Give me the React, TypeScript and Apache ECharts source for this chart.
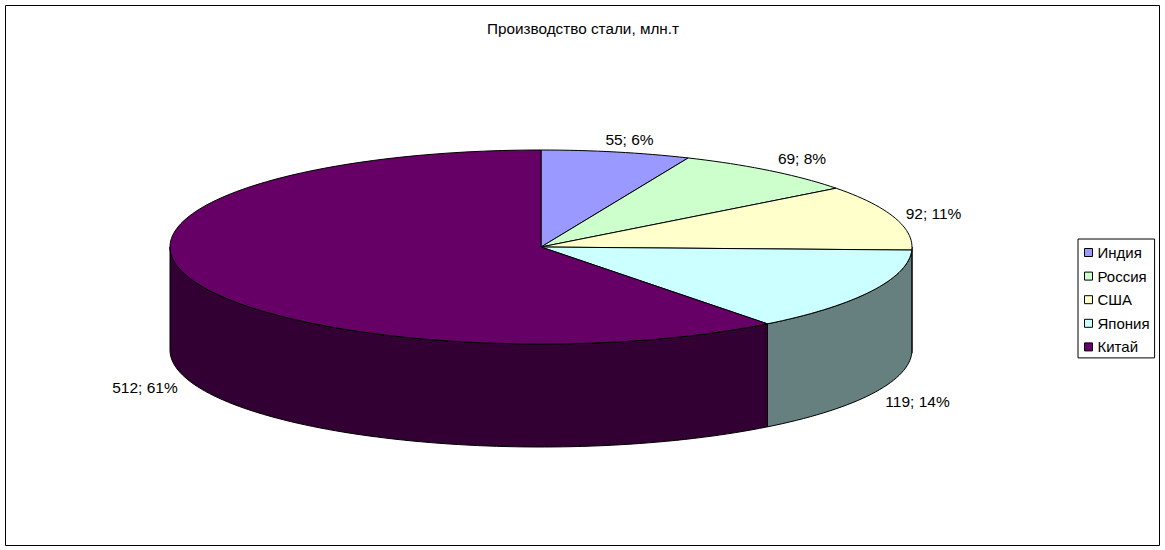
import React, { useEffect, useRef } from "react";
import * as echarts from "echarts";

const categories = ["Индия", "Россия", "США", "Япония", "Китай"];
const values = [55, 69, 92, 119, 512];
const percents = [6, 8, 11, 14, 61];
const topColors = ["#9999FF", "#CCFFCC", "#FFFFCC", "#CCFFFF", "#660066"];
const sideColors = ["#666699", "#88AA88", "#808066", "#668080", "#330033"];
const labelPos = [
  [629.5, 139],
  [802, 158],
  [933.5, 213],
  [917.5, 401],
  [145, 387],
];

const CX = 541;
const CY = 247;
const RX = 371;
const RY = 97;
const DEPTH = 103;
const FONT = "Liberation Sans, Arial, sans-serif";

const total = values.reduce((a, b) => a + b, 0);

function pt(deg: number, dy = 0): number[] {
  const r = (deg * Math.PI) / 180;
  return [CX + RX * Math.sin(r), CY + dy - RY * Math.cos(r)];
}

function arc(a0: number, a1: number, dy = 0): number[][] {
  const out: number[][] = [];
  const n = Math.max(2, Math.ceil(Math.abs(a1 - a0) / 1.5));
  for (let i = 0; i <= n; i++) out.push(pt(a0 + ((a1 - a0) * i) / n, dy));
  return out;
}

export default function App() {
  const ref = useRef<HTMLDivElement>(null);
  useEffect(() => {
    if (!ref.current) return;
    const chart = echarts.init(ref.current, null, { renderer: "svg" });
    let cum = 0;
    const series = categories.map((name, i) => {
      const start = (cum / total) * 360;
      cum += values[i];
      const end = (cum / total) * 360;
      return {
        type: "custom",
        name,
        coordinateSystem: "none",
        silent: true,
        z: 2,
        itemStyle: { color: topColors[i], borderColor: "#000", borderWidth: 1 },
        data: [[values[i]]],
        renderItem: () => {
          const children: any[] = [];
          const s0 = Math.max(start, 90);
          const s1 = Math.min(end, 270);
          if (s1 > s0) {
            children.push({
              type: "polygon",
              shape: { points: [...arc(s0, s1), ...arc(s1, s0, DEPTH)] },
              style: { fill: sideColors[i], stroke: "#000", lineWidth: 1, lineJoin: "round" },
            });
          }
          children.push({
            type: "polygon",
            shape: { points: [[CX, CY], ...arc(start, end)] },
            style: { fill: topColors[i], stroke: "#000", lineWidth: 1, lineJoin: "round" },
          });
          children.push({
            type: "text",
            x: labelPos[i][0],
            y: labelPos[i][1],
            style: {
              text: `${values[i]}; ${percents[i]}%`,
              fill: "#000",
              font: `15.5px ${FONT}`,
              align: "center",
              verticalAlign: "middle",
            },
          });
          return { type: "group", children };
        },
      };
    });
    chart.setOption({
      animation: false,
      backgroundColor: "#fff",
      title: {
        text: "Производство стали, млн.т",
        left: 583,
        top: 21,
        padding: 0,
        textAlign: "center",
        textStyle: { fontFamily: FONT, fontSize: 15.3, fontWeight: "normal", color: "#000" },
      },
      legend: {
        orient: "vertical",
        left: 1078,
        top: 239,
        padding: [5.5, 5, 3, 6],
        itemGap: 7.6,
        itemWidth: 8,
        itemHeight: 8,
        icon: "rect",
        borderColor: "#000",
        borderWidth: 1,
        backgroundColor: "#fff",
        selectedMode: false,
        data: categories,
        itemStyle: { borderColor: "#000", borderWidth: 1 },
        textStyle: { fontFamily: FONT, fontSize: 15, lineHeight: 16, color: "#000" },
      },
      graphic: [
        {
          type: "rect",
          z: -1,
          shape: { x: 5.5, y: 5.5, width: 1154, height: 540 },
          style: { fill: "#fff", stroke: "#000", lineWidth: 1 },
        },
      ],
      series,
    });
    return () => chart.dispose();
  }, []);
  return <div ref={ref} style={{ width: 1165, height: 550, position: "absolute", left: 0, top: 0 }} />;
}
